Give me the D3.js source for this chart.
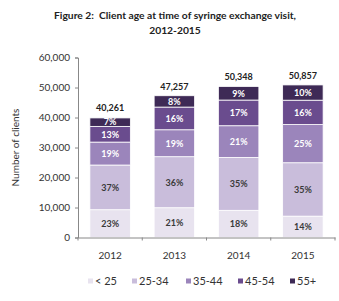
<!DOCTYPE html>
<html lang="en">
  <head>
    <meta charset="utf-8">
    <title>client age</title>
    <script src="https://cdn.jsdelivr.net/npm/d3@7"></script>
    <style>
      body { margin: 0; background: #fff; }
      text { font-family: Lato, "Open Sans", sans-serif; }
    </style>
  </head>
  <body>
    <svg id="chart"></svg>
    <script>

    // DATA
    const years = ['2012', '2013', '2014', '2015'];
    const totals = [40261, 47257, 50348, 50857];
    const ageGroups = ['< 25', '25-34', '35-44', '45-54', '55+'];
    // percent of clients per age group, one array per year
    const pct2012 = [23, 37, 19, 13, 7];
    const pct2013 = [21, 36, 19, 16, 8];
    const pct2014 = [18, 35, 21, 17, 9];
    const pct2015 = [14, 35, 25, 16, 10];
    const yTicks = [0, 10000, 20000, 30000, 40000, 50000, 60000];

    const pcts = [pct2012, pct2013, pct2014, pct2015];
    const colors = ['#e8e3ef', '#c9bddb', '#9b85bb', '#6a4c8e', '#3e2a56'];
    const textColors = ['#3a3a3a', '#3a3a3a', '#ffffff', '#ffffff', '#ffffff'];

    // DIMENSIONS
    const width = 339, height = 301;
    const margin = { top: 57.5, right: 4, bottom: 63.5, left: 78 };

    const svg = d3.select('#chart')
      .attr('width', width)
      .attr('height', height);

    const x = d3.scaleBand()
      .domain(years)
      .range([margin.left, width - margin.right])
      .paddingInner(0.37)
      .paddingOuter(0.185);

    const y = d3.scaleLinear()
      .domain([0, 60000])
      .range([height - margin.bottom, margin.top]);

    // stack the counts (total * share)
    const rows = years.map((yr, i) => {
      const row = { year: yr };
      ageGroups.forEach((g, j) => row[g] = totals[i] * pcts[i][j] / 100);
      return row;
    });
    const series = d3.stack().keys(ageGroups)(rows);

    // TITLE
    svg.append('text')
      .attr('x', 175).attr('y', 18.5)
      .attr('text-anchor', 'middle')
      .style('white-space', 'pre')
      .style('font-size', '10.3px').style('font-weight', 'bold').style('fill', '#222')
      .text('Figure 2:  Client age at time of syringe exchange visit,');
    svg.append('text')
      .attr('x', 175).attr('y', 33.5)
      .attr('text-anchor', 'middle')
      .style('font-size', '10.3px').style('font-weight', 'bold').style('fill', '#222')
      .text('2012-2015');

    // BARS
    const groups = svg.append('g')
      .selectAll('g')
      .data(series)
      .join('g')
      .attr('fill', (d, i) => colors[i]);

    groups.selectAll('rect')
      .data(d => d)
      .join('rect')
      .attr('x', d => x(d.data.year))
      .attr('y', d => y(d[1]))
      .attr('width', x.bandwidth())
      .attr('height', d => y(d[0]) - y(d[1]))
      .attr('stroke', '#fff')
      .attr('stroke-width', 0.8);

    // percent labels
    series.forEach((s, j) => {
      svg.append('g')
        .selectAll('text')
        .data(s)
        .join('text')
        .attr('x', d => x(d.data.year) + x.bandwidth() / 2)
        .attr('y', d => (y(d[0]) + y(d[1])) / 2 + 3.3)
        .attr('text-anchor', 'middle')
        .style('font-size', '9px').style('font-weight', 'bold')
        .style('fill', textColors[j])
        .text((d, i) => pcts[i][j] + '%');
    });

    // totals above bars
    svg.append('g')
      .selectAll('text')
      .data(years)
      .join('text')
      .attr('x', d => x(d) + x.bandwidth() / 2)
      .attr('y', (d, i) => y(totals[i]) - 6)
      .attr('text-anchor', 'middle')
      .style('font-size', '9px').style('font-weight', 'bold').style('fill', '#222')
      .text((d, i) => d3.format(',')(totals[i]));

    // AXES
    const yAxis = svg.append('g')
      .attr('transform', `translate(${margin.left},0)`)
      .call(d3.axisLeft(y).tickValues(yTicks).tickSize(3).tickFormat(d3.format(',')));
    yAxis.select('.domain').attr('stroke', '#888');
    yAxis.selectAll('.tick line').attr('stroke', '#888');
    yAxis.selectAll('.tick text')
      .attr('x', -8)
      .style('font-size', '10px').style('fill', '#333').style('font-family', 'Lato, sans-serif');

    const xAxis = svg.append('g')
      .attr('transform', `translate(0,${y(0)})`)
      .call(d3.axisBottom(x).tickSize(0).tickPadding(14));
    xAxis.select('.domain').attr('stroke', '#888');
    xAxis.selectAll('.tick text')
      .style('font-size', '10px').style('fill', '#333').style('font-family', 'Lato, sans-serif');

    // category boundary ticks
    const step = x.step();
    svg.append('g')
      .selectAll('line')
      .data(d3.range(years.length + 1))
      .join('line')
      .attr('x1', i => margin.left + i * step)
      .attr('x2', i => margin.left + i * step)
      .attr('y1', y(0))
      .attr('y2', y(0) + 3)
      .attr('stroke', '#888');

    // Y LABEL
    svg.append('text')
      .attr('transform', `translate(19,${(y(0) + y(60000)) / 2}) rotate(-90)`)
      .attr('text-anchor', 'middle')
      .style('font-size', '10px').style('fill', '#333')
      .text('Number of clients');

    // LEGEND
    const legendX = [88, 132, 186, 238, 290];
    const legend = svg.append('g')
      .selectAll('g')
      .data(ageGroups)
      .join('g')
      .attr('transform', (d, i) => `translate(${legendX[i]},281)`);
    legend.append('rect')
      .attr('x', 0).attr('y', -2.5)
      .attr('width', 5).attr('height', 5)
      .attr('fill', (d, i) => colors[i]);
    legend.append('text')
      .attr('x', 7).attr('y', 4)
      .style('font-size', '11px').style('fill', '#333')
      .text(d => d);

    </script>
  </body>
</html>
